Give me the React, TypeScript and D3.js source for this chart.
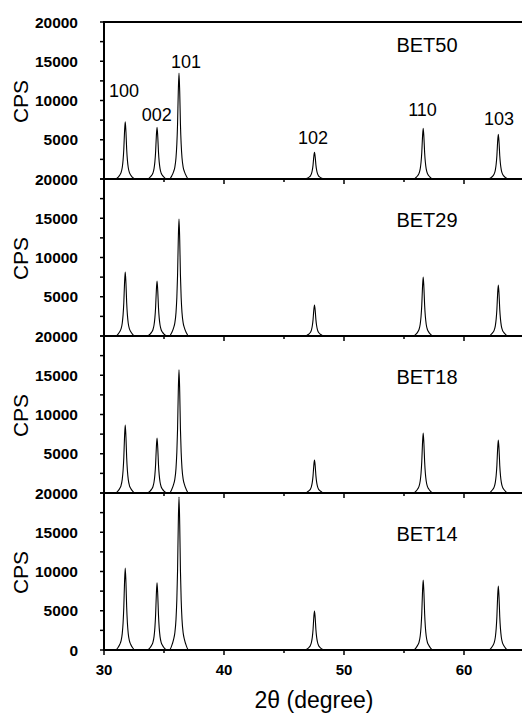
import { useEffect, useRef } from "react";
import * as d3 from "d3";

// samples, top panel first
const sampleNames = ["BET50", "BET29", "BET18", "BET14"];

// ZnO reflections (2theta, degrees)
const peakPositions = [31.77, 34.42, 36.25, 47.54, 56.6, 62.86];
const millerLabels = ["100", "002", "101", "102", "110", "103"];

// peak heights (CPS) read per sample
const heightsBET50 = [7300, 6600, 13500, 3400, 6450, 5700];
const heightsBET29 = [8150, 7000, 14900, 3950, 7500, 6500];
const heightsBET18 = [8660, 7000, 15700, 4200, 7640, 6750];
const heightsBET14 = [10450, 8550, 19500, 4970, 8900, 8150];
const peakHeights = [heightsBET50, heightsBET29, heightsBET18, heightsBET14];

// shape of a single reflection (offset in deg, fraction of height)
const profileOffsets = [-0.8, -0.6, -0.45, -0.35, -0.25, -0.18, -0.12, -0.06, 0, 0.06, 0.12, 0.18, 0.25, 0.35, 0.45, 0.6, 0.8];
const profileFractions = [0, 0.03, 0.07, 0.11, 0.2, 0.33, 0.52, 0.82, 1, 0.82, 0.52, 0.33, 0.2, 0.11, 0.07, 0.03, 0];

// Miller index labels in the top panel (2theta, CPS)
const labelX = [31.67, 34.4, 36.83, 47.42, 56.54, 62.92];
const labelY = [11270, 8230, 15000, 5250, 8800, 7660];

const xDomain: [number, number] = [30, 65];
const xMajorTicks = [30, 40, 50, 60];
const xMinorTicks = [35, 45, 55, 65];
const yTicks = [0, 2500, 5000, 7500, 10000, 12500, 15000, 17500, 20000];
const yLabelTicks = [5000, 10000, 15000, 20000];

const FONT = "'Liberation Sans', Arial, sans-serif";

export default function App() {
    const svgRef = useRef<SVGSVGElement>(null);

    useEffect(() => {
        const svgEl = svgRef.current;
        if (!svgEl) return;

        const width = 522;
        const height = 717;
        const left = 104;
        const top = 22;
        const panelH = 157;

        d3.select(svgEl).selectAll("*").remove();
        const svg = d3.select(svgEl).attr("width", width).attr("height", height);

        const xScale = d3.scaleLinear().domain(xDomain).range([left, left + 420]);

        const line = d3.line<{ x: number; y: number }>()
            .curve(d3.curveMonotoneX);

        sampleNames.forEach((name, i) => {
            const y0 = top + i * panelH;
            const yScale = d3.scaleLinear().domain([0, 20000]).range([y0 + panelH, y0]);
            const heights = peakHeights[i];

            // build the trace
            const pts: { x: number; y: number }[] = [{ x: xDomain[0], y: 0 }];
            peakPositions.forEach((p, k) => {
                profileOffsets.forEach((o, j) => {
                    pts.push({ x: p + o, y: heights[k] * profileFractions[j] });
                });
            });
            pts.push({ x: xDomain[1], y: 0 });

            line.x(d => xScale(d.x)).y(d => yScale(d.y));

            svg.append("path")
                .datum(pts)
                .attr("fill", "none")
                .attr("stroke", "#000")
                .attr("stroke-width", 1.1)
                .attr("d", line);

            // y ticks (outward)
            svg.append("g")
                .selectAll("line")
                .data(yTicks)
                .join("line")
                .attr("x1", left - 4)
                .attr("x2", left)
                .attr("y1", d => yScale(d))
                .attr("y2", d => yScale(d))
                .attr("stroke", "#000")
                .attr("stroke-width", 1.5);

            const labels = i === sampleNames.length - 1 ? [0, ...yLabelTicks] : yLabelTicks;
            svg.append("g")
                .selectAll("text")
                .data(labels)
                .join("text")
                .attr("x", 78)
                .attr("y", d => yScale(d))
                .attr("dy", "0.36em")
                .attr("text-anchor", "end")
                .attr("font-family", FONT)
                .attr("font-weight", "bold")
                .attr("font-size", "15.5px")
                .text(d => String(d));

            // CPS label
            svg.append("text")
                .attr("transform", `translate(28,${y0 + panelH / 2 + 1}) rotate(-90)`)
                .attr("text-anchor", "middle")
                .attr("font-family", FONT)
                .attr("font-size", "21px")
                .text("CPS");

            // bottom axis of the panel
            const yb = y0 + panelH;
            svg.append("line")
                .attr("x1", left).attr("x2", width)
                .attr("y1", yb).attr("y2", yb)
                .attr("stroke", "#000").attr("stroke-width", 2);

            svg.append("g")
                .selectAll("line")
                .data(xMajorTicks)
                .join("line")
                .attr("x1", d => xScale(d)).attr("x2", d => xScale(d))
                .attr("y1", yb).attr("y2", yb + 5)
                .attr("stroke", "#000").attr("stroke-width", 1.5);

            svg.append("g")
                .selectAll("line")
                .data(xMinorTicks)
                .join("line")
                .attr("x1", d => xScale(d)).attr("x2", d => xScale(d))
                .attr("y1", yb).attr("y2", yb + 3)
                .attr("stroke", "#000").attr("stroke-width", 1.5);

            // sample name
            svg.append("text")
                .attr("x", 427)
                .attr("y", y0 + (i === 0 ? 23 : 41))
                .attr("dy", "0.36em")
                .attr("text-anchor", "middle")
                .attr("font-family", FONT)
                .attr("font-size", "20px")
                .text(name);

            if (i === 0) {
                svg.append("g")
                    .selectAll("text")
                    .data(millerLabels)
                    .join("text")
                    .attr("x", (_, k) => xScale(labelX[k]))
                    .attr("y", (_, k) => yScale(labelY[k]))
                    .attr("dy", "0.36em")
                    .attr("text-anchor", "middle")
                    .attr("font-family", FONT)
                    .attr("font-size", "18px")
                    .text(d => d);
            }
        });

        // frame: top line and left axis
        const bottom = top + sampleNames.length * panelH;
        svg.append("line")
            .attr("x1", left).attr("x2", width)
            .attr("y1", top).attr("y2", top)
            .attr("stroke", "#000").attr("stroke-width", 2);
        svg.append("line")
            .attr("x1", left).attr("x2", left)
            .attr("y1", top - 1).attr("y2", bottom + 1)
            .attr("stroke", "#000").attr("stroke-width", 2);

        // x tick labels
        svg.append("g")
            .selectAll("text")
            .data(xMajorTicks)
            .join("text")
            .attr("x", d => xScale(d))
            .attr("y", bottom + 20)
            .attr("dy", "0.36em")
            .attr("text-anchor", "middle")
            .attr("font-family", FONT)
            .attr("font-weight", "bold")
            .attr("font-size", "15px")
            .text(d => String(d));

        svg.append("text")
            .attr("x", 314)
            .attr("y", bottom + 50)
            .attr("dy", "0.36em")
            .attr("text-anchor", "middle")
            .attr("font-family", FONT)
            .attr("font-size", "23px")
            .text("2θ (degree)");
    }, []);

    return (
        <svg ref={svgRef} style={{ position: "absolute", left: 0, top: 0, background: "#fff" }} />
    );
}
